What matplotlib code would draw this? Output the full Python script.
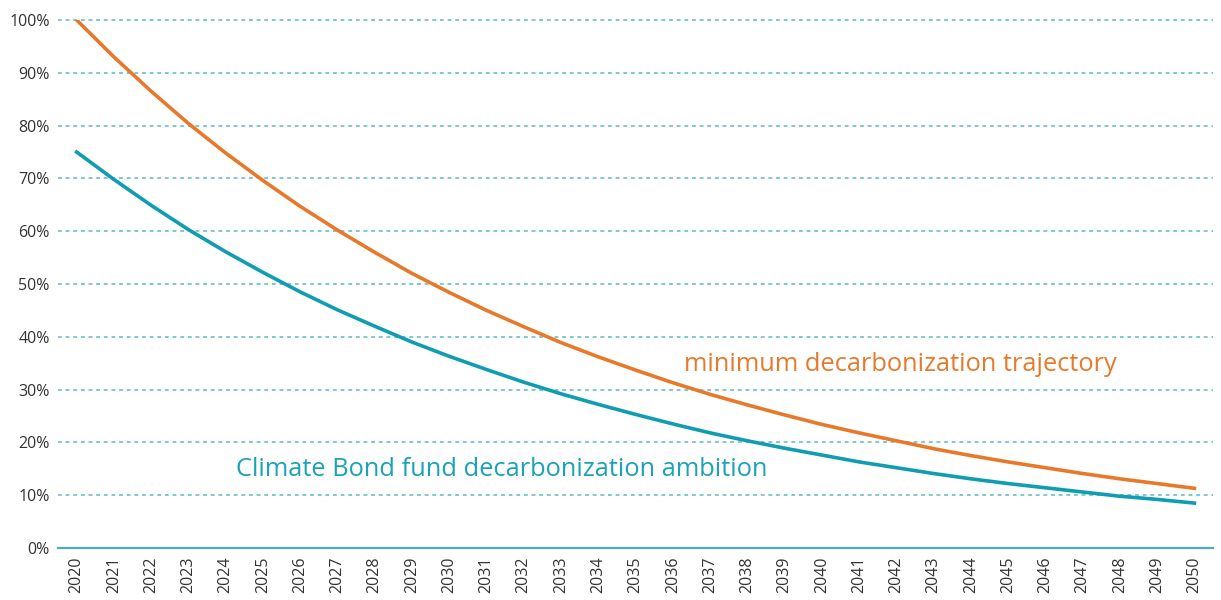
import matplotlib.pyplot as plt

years = list(range(2020, 2051))
minimum_trajectory = [100, 93.0, 86.5, 80.4, 74.8, 69.6, 64.7, 60.2, 56.0, 52.0,
                      48.4, 45.0, 41.9, 38.9, 36.2, 33.7, 31.3, 29.1, 27.1, 25.2,
                      23.4, 21.8, 20.3, 18.8, 17.5, 16.3, 15.2, 14.1, 13.1, 12.2, 11.3]
fund_ambition = [75, 69.8, 64.9, 60.3, 56.1, 52.2, 48.5, 45.1, 42.0, 39.0,
                 36.3, 33.8, 31.4, 29.2, 27.2, 25.3, 23.5, 21.8, 20.3, 18.9,
                 17.6, 16.3, 15.2, 14.1, 13.1, 12.2, 11.4, 10.6, 9.8, 9.2, 8.5]
y_ticks = [0, 10, 20, 30, 40, 50, 60, 70, 80, 90, 100]

orange = "#E8792B"
teal = "#109DB1"
grid_col = "#5BB8C8"

plt.rcParams['font.family'] = ['Open Sans', 'DejaVu Sans']

fig = plt.figure(figsize=(12.21, 6), dpi=100)
ax = fig.add_axes([0.0475, 0.0867, 0.946, 0.88])

for t in y_ticks[1:]:
    ax.axhline(t, color=grid_col, lw=1.1, ls=(0, (2.5, 2.5)), zorder=1, clip_on=False)
ax.axhline(0, color="#4FAABB", lw=1.6, zorder=1, clip_on=False)

ax.plot(years, minimum_trajectory, color=orange, lw=2.6, zorder=3)
ax.plot(years, fund_ambition, color=teal, lw=2.6, zorder=3)

ax.text(2042.1, 34.7, "minimum decarbonization trajectory", color=orange,
        fontsize=18.3, ha="center", va="center")
ax.text(2031.4, 14.8, "Climate Bond fund decarbonization ambition", color="#1BA3B5",
        fontsize=18.3, ha="center", va="center")

ax.set_xlim(2019.5, 2050.5)
ax.set_ylim(0, 100)
ax.set_xticks(years)
ax.set_xticklabels([str(y) for y in years], rotation=90, fontsize=11.5, color="#333333")
ax.set_yticks(y_ticks)
ax.set_yticklabels([f"{t}%" for t in y_ticks], fontsize=11.5, color="#333333")
ax.tick_params(length=0, pad=6)
for s in ax.spines.values():
    s.set_visible(False)

fig.savefig("out.png", dpi=100)
